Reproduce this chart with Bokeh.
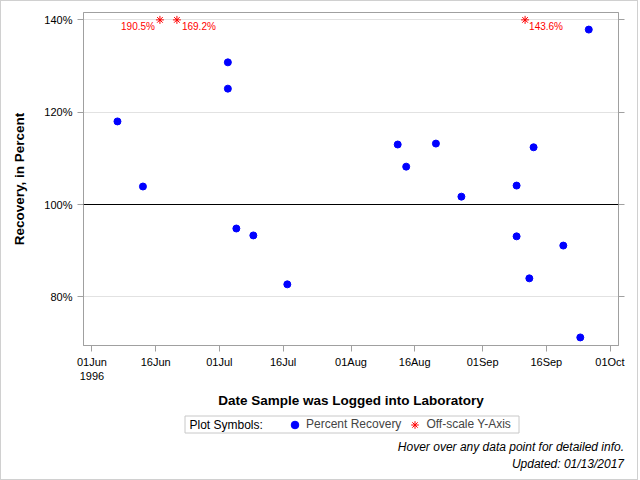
import pandas as pd
from bokeh.plotting import figure
from bokeh.layouts import column
from bokeh.models import (Range1d, FixedTicker, PrintfTickFormatter, DatetimeTickFormatter,
                          DaysTicker, LinearAxis, Span, Label, Legend, LegendItem,
                          ColumnDataSource, Div)
from bokeh.core.properties import value, field
from bokeh.embed import file_html
from bokeh.resources import INLINE

# ---------------- data ----------------
sample_dates = ["1996-06-07", "1996-06-13", "1996-07-03", "1996-07-03", "1996-07-05",
                "1996-07-09", "1996-07-17", "1996-08-12", "1996-08-14", "1996-08-21",
                "1996-08-27", "1996-09-09", "1996-09-13", "1996-09-26", "1996-09-09",
                "1996-09-12", "1996-09-20", "1996-09-24"]
percent_recovery = [118.0, 103.9, 130.8, 125.1, 94.8,
                    93.3, 82.7, 113.0, 108.2, 113.2,
                    101.7, 104.1, 112.4, 137.9, 93.1,
                    84.0, 91.1, 71.2]
offscale_dates = ["1996-06-17", "1996-06-21", "1996-09-11"]
offscale_values = [190.5, 169.2, 143.6]
y_ticks = [80, 100, 120, 140]
x_start, x_end = "1996-05-30", "1996-10-03"
y_start, y_end = 69.45, 141.6
reference_level = 100
footnotes = ["Hover over any data point for detailed info.", "Updated: 01/13/2017"]

FONT = "Liberation Sans"
GRAY = "#a0a0a0"
BORDER = 1          # css border around the whole chart

# ------------- layout (page pixels) -------------
W_IN = 636
H1 = 411
H2 = 25
H3 = 478 - H1 - H2
FL, FR, FT, FB = 83 - BORDER, 618 - BORDER, 12 - BORDER, 345 - BORDER

p = figure(width=W_IN, height=H1, x_axis_type="datetime",
           x_range=Range1d(pd.Timestamp(x_start), pd.Timestamp(x_end)),
           y_range=Range1d(y_start, y_end),
           min_border_left=FL, min_border_right=W_IN - FR,
           min_border_top=FT, min_border_bottom=H1 - FB,
           output_backend="svg", toolbar_location=None)
p.outline_line_color = GRAY
p.background_fill_color = "white"
p.border_fill_color = "white"

# axes
xa = p.xaxis[0]
xa.ticker = DaysTicker(days=[1, 16])
xa.formatter = DatetimeTickFormatter(days="%d%b", months="%d%b", context="%Y",
                                     context_which="start")
xa.axis_label = "Date Sample was Logged into Laboratory"
ya = p.yaxis[0]
ya.ticker = FixedTicker(ticks=y_ticks)
ya.formatter = PrintfTickFormatter(format="%d%%")
ya.axis_label = "Recovery, in Percent"

ra = LinearAxis(ticker=FixedTicker(ticks=y_ticks))
p.add_layout(ra, "right")

for ax in (xa, ya, ra):
    ax.axis_line_color = GRAY
    ax.major_tick_line_color = GRAY
    ax.minor_tick_line_color = None
    ax.major_tick_in = 0
    ax.major_tick_out = 6
    ax.major_label_text_font = FONT
    ax.major_label_text_font_size = "11px"
    ax.major_label_text_color = "black"
    ax.axis_label_text_font = FONT
    ax.axis_label_text_font_size = "13.5px"
    ax.axis_label_text_font_style = "bold"
    ax.axis_label_text_color = "black"
# right axis: ticks only, no labels
ra.major_label_overrides = {t: "" for t in y_ticks}
ra.major_label_text_color = None
ra.major_label_standoff = 0
xa.major_label_standoff = 4
ya.major_label_standoff = 5
ya.axis_label_standoff = 14
xa.axis_label_standoff = 8

p.xgrid.grid_line_color = None
p.ygrid.grid_line_color = "#e2e2e2"
p.ygrid.ticker = FixedTicker(ticks=y_ticks)

p.add_layout(Span(location=reference_level, dimension="width", line_color="black",
                  line_width=1))

# points
src = ColumnDataSource(dict(x=pd.to_datetime(sample_dates), y=percent_recovery))
PT_STYLE = dict(marker="circle", size=7, fill_color="blue", line_color="blue")
AST_STYLE = dict(marker="asterisk", size=8, line_color="red", line_width=1)
p.scatter("x", "y", source=src, **PT_STYLE)

top_y = y_ticks[-1]
off_src = ColumnDataSource(dict(
    x=pd.to_datetime(offscale_dates),
    y=[top_y] * len(offscale_values),
    label=[f"{v:.1f}%" for v in offscale_values],
    align=["right", "left", "left"],
    dx=[-5, 5, 4],
))
p.scatter("x", "y", source=off_src, **AST_STYLE)
p.text("x", "y", text="label", source=off_src, text_align=field("align"),
       x_offset=field("dx"), y_offset=7, text_baseline="middle",
       text_font=value(FONT), text_font_size="10px", text_color="red")

# ------------- legend strip -------------
# (its frame is aligned with the main plot's frame by the column layout,
#  so its x range is expressed in the strip's canvas pixels)
q = figure(width=W_IN, height=H2, x_range=Range1d(FL, FR), y_range=Range1d(H2, 0),
           x_axis_location=None, y_axis_location=None,
           min_border_left=FL, min_border_right=W_IN - FR,
           min_border_top=0, min_border_bottom=0,
           output_backend="svg", toolbar_location=None)
q.outline_line_color = None
q.xgrid.grid_line_color = None
q.ygrid.grid_line_color = None
q.background_fill_color = "white"
q.border_fill_color = "white"

Y0 = H1 + BORDER   # page y of strip top


def qx(X):
    return X - BORDER


def qy(Y):
    return Y - Y0


nan = float("nan")
q.quad(left=[qx(184.5)], right=[qx(518.5)], top=[qy(415.5)], bottom=[qy(432.5)],
       fill_color="white", line_color="#c8c8c8", line_width=1)
q.add_layout(Label(x=qx(189), y=qy(424), text="Plot Symbols:", text_font=FONT,
                   text_font_size="12px", text_baseline="middle", text_color="black"))
proxy_pt = q.scatter(x=[nan], y=[nan], **PT_STYLE)
proxy_ast = q.scatter(x=[nan], y=[nan], **AST_STYLE)
legend = Legend(items=[LegendItem(label="Percent Recovery", renderers=[proxy_pt]),
                       LegendItem(label="Off-scale Y-Axis", renderers=[proxy_ast])],
                orientation="horizontal", location=(qx(282) - FL, H2 - qy(436.5)),
                glyph_width=19, glyph_height=19, label_standoff=2, spacing=4,
                padding=3, margin=0, border_line_alpha=0, background_fill_alpha=0,
                label_text_font=FONT, label_text_font_size="12px")
q.add_layout(legend)

# ------------- footnotes -------------
notes = Div(text='<div style="padding-top:2px">' + "<br>".join(footnotes) + "</div>",
            width=624 - BORDER, height=H3,
            styles={"text-align": "right", "font-family": FONT, "font-size": "12px",
                    "font-style": "italic", "line-height": "17px", "color": "black",
                    "margin": "0", "padding": "0"})

layout = column(p, q, notes, spacing=0, styles={"border": "1px solid #d0d0d0"})

open("out.html", "w").write(file_html(layout, INLINE))
